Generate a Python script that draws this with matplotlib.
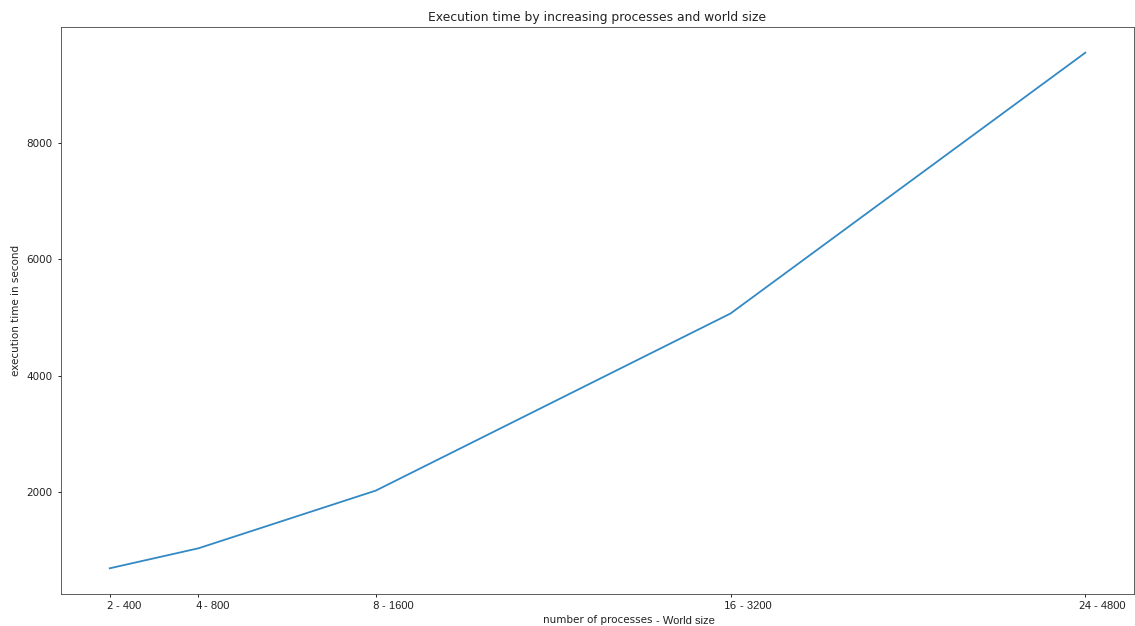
import matplotlib
matplotlib.use("Agg")
import matplotlib.pyplot as plt

# Number of processes, matching world size, and execution time (s)
processes = [2, 4, 8, 16, 24]
world_sizes = [400, 800, 1600, 3200, 4800]
exec_time = [697, 1040, 2030, 5069, 9543]
y_ticks = [2000, 4000, 6000, 8000]

fig = plt.figure(figsize=(11.35, 6.26), dpi=100)
ax = fig.add_axes([0.0537, 0.051, 0.9455, 0.906])

ax.plot(processes, exec_time, color="#3389c4", linewidth=1.3)

ax.set_xticks(processes)
ax.set_xticklabels([str(p) for p in processes], fontsize=7.45, color="#222222")
ax.set_yticks(y_ticks)
ax.tick_params(axis="y", labelsize=7.45, labelcolor="#222222", length=2.5, width=0.6)
ax.tick_params(axis="x", length=2.5, width=0.6, pad=2.5)
for s in ax.spines.values():
    s.set_linewidth(0.6)
    s.set_color("#444444")

ax.set_title("Execution time by increasing processes and world size",
             fontsize=8.9, pad=4, color="#222222")
ax.set_xlabel("number of processes", fontsize=7.45, labelpad=3, color="#222222")
ax.set_ylabel("execution time in second", fontsize=7.45, labelpad=4, color="#222222")

# Append world sizes next to each process count, and to the x label
fig.canvas.draw()
renderer = fig.canvas.get_renderer()
inv = fig.transFigure.inverted()
for lbl, ws in zip(ax.get_xticklabels(), world_sizes):
    bb = lbl.get_window_extent(renderer)
    x0, y0 = inv.transform((bb.x1 + 2.5, (bb.y0 + bb.y1) / 2))
    fig.text(x0, y0, f"- {ws}", fontsize=8, family="Liberation Sans",
             ha="left", va="center", color="#222222")

bb = ax.xaxis.label.get_window_extent(renderer)
x0, y0 = inv.transform((bb.x1 + 4, (bb.y0 + bb.y1) / 2 - 1))
fig.text(x0, y0, "- World size", fontsize=8, family="Liberation Sans",
         ha="left", va="center", color="#222222")

fig.savefig("out.png", dpi=100)
